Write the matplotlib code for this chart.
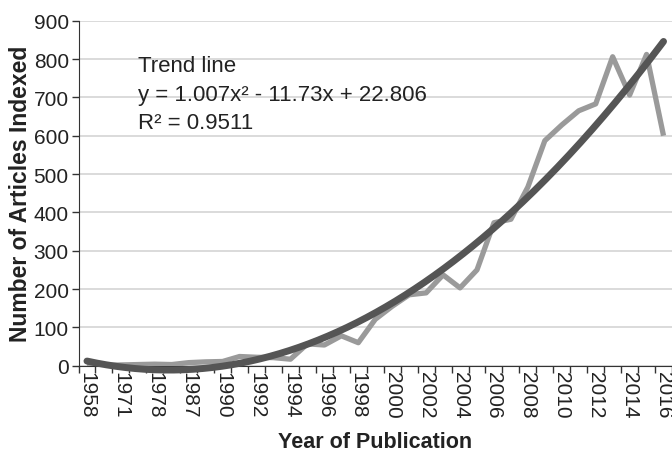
import numpy as np
import matplotlib
matplotlib.use("Agg")
import matplotlib.pyplot as plt

plt.rcParams['font.family'] = ['Liberation Sans', 'DejaVu Sans']

# Categories (every other label shown on the axis)
years = ["1958", "1965", "1971", "1975", "1978", "1983", "1987", "1989",
         "1990", "1991", "1992", "1993", "1994", "1995", "1996", "1997",
         "1998", "1999", "2000", "2001", "2002", "2003", "2004", "2005",
         "2006", "2007", "2008", "2009", "2010", "2011", "2012", "2013",
         "2014", "2015", "2016"]
articles = [2, 1, 2, 3, 4, 3, 8, 10,
            11, 24, 22, 21, 17, 57, 54, 78,
            60, 121, 155, 185, 190, 237, 203, 250,
            373, 382, 466, 587, 628, 665, 683, 806,
            706, 812, 600]

# Trend line coefficients (as printed on chart; x = category number 1..N)
trend_a, trend_b, trend_c = 1.007, -11.73, 22.806
r_squared = "0.9511"

fig = plt.figure(figsize=(6.72, 4.56), dpi=100)
ax = fig.add_axes([78.5 / 672, (456 - 366.7) / 456, 593.5 / 672, 345 / 456])

n = len(years)
xpos = np.arange(n)
ax.plot(xpos, articles, color="#9a9a9a", lw=3.8, solid_joinstyle="round",
        solid_capstyle="butt", zorder=3)

xt = np.linspace(1, n, 300)
yt = trend_a * xt ** 2 + trend_b * xt + trend_c
ax.plot(xt - 1, yt, color="#555555", lw=5.0, solid_capstyle="round",
        zorder=4, clip_on=False)

ax.set_xlim(-0.5, n - 0.5)
ax.set_ylim(0, 900)
ax.set_yticks(np.arange(0, 901, 100))
ax.yaxis.grid(True, color="#d4d4d4", lw=1.2)
ax.set_axisbelow(True)

ax.set_xticks(xpos[::2])
ax.set_xticklabels(years[::2], rotation=270, fontsize=15, color="#222222")
ax.set_xticks(np.arange(-0.5, n, 1), minor=True)
ax.tick_params(axis="x", which="major", length=0, pad=4)
ax.tick_params(axis="x", which="minor", length=5, width=1, color="#333333")
ax.tick_params(axis="y", length=5, width=1, color="#333333", labelsize=15,
               labelcolor="#222222", pad=2)

for s in ["top", "right"]:
    ax.spines[s].set_visible(False)
ax.spines["left"].set_color("#333333")
ax.spines["bottom"].set_color("#333333")
ax.spines["left"].set_zorder(2)

ax.set_xlabel("Year of Publication", fontsize=15.5, fontweight="bold",
              color="#222222", labelpad=9)
ax.set_ylabel("Number of Articles Indexed", fontsize=16.5, fontweight="bold",
              color="#222222", labelpad=1)

tx = 138 / 672
fig.text(tx, 1 - 72 / 456, "Trend line", fontsize=16, color="#222222",
         va="baseline", ha="left")
fig.text(tx, 1 - 100.5 / 456, "y = 1.007x\u00b2 - 11.73x + 22.806",
         fontsize=16, color="#222222", va="baseline", ha="left")
fig.text(tx, 1 - 129 / 456, "R\u00b2 = " + r_squared, fontsize=16,
         color="#222222", va="baseline", ha="left")

fig.savefig("out.png", dpi=100)
